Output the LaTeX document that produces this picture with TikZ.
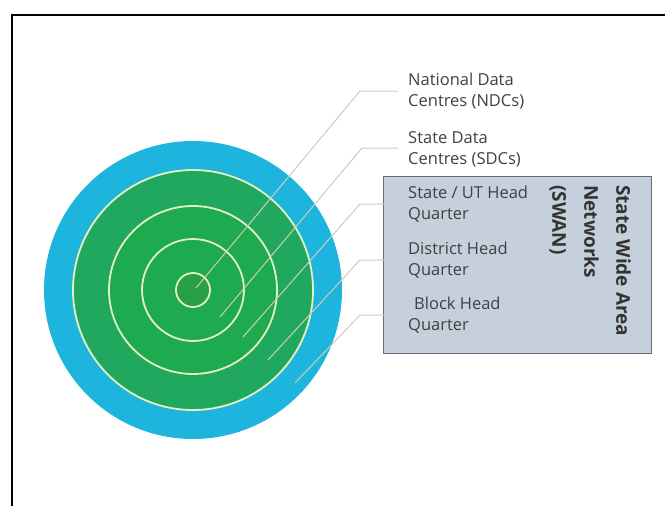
\documentclass[tikz,border=0pt]{standalone}
\usepackage{fontspec}
\setmainfont{Open Sans}
\definecolor{cyanring}{RGB}{29,181,222}
\definecolor{greenfill}{RGB}{30,170,78}
\definecolor{greenouter}{RGB}{32,168,95}
\definecolor{greencore}{RGB}{40,160,70}
\definecolor{ringline}{RGB}{230,240,190}
\definecolor{leader}{RGB}{205,205,185}
\definecolor{labeltext}{RGB}{64,64,64}
\definecolor{boxfill}{RGB}{198,208,220}
\definecolor{boxline}{RGB}{95,110,125}
\begin{document}
\begin{tikzpicture}[x=1pt,y=-1pt,
  ringstyle/.style={circle,draw=ringline,line width=1.8pt,inner sep=0pt},
  leaderline/.style={draw=leader,line width=1pt},
  lbl/.style={anchor=west,align=left,text=labeltext,font=\fontsize{16.5}{21}\selectfont,inner sep=0pt}]
\useasboundingbox (0,0) rectangle (665,506);
\fill[white] (0,0) rectangle (665,506);
\draw[black,line width=2.4pt] (12,520) -- (12,15) -- (680,15);
% target
\node[circle,fill=cyanring,minimum size=298pt,inner sep=0pt] (outer) at (193,290) {};
\node[ringstyle,fill=greenouter,minimum size=240pt] (r1) at (193,290) {};
\node[ringstyle,fill=greenfill,minimum size=168pt] (r2) at (193,290) {};
\node[ringstyle,fill=greenfill,minimum size=102pt] (r3) at (193,290) {};
\node[ringstyle,fill=greencore,minimum size=34pt] (r4) at (193,290) {};
% box
\node[draw=boxline,fill=boxfill,line width=1pt,minimum width=268pt,minimum height=177pt,anchor=north west,inner sep=0pt] (swanbox) at (383,176) {};
\node[rotate=-90,anchor=north west,align=left,font=\bfseries\fontsize{19}{32}\selectfont,text=labeltext!80!black,inner sep=0pt] (swan) at (631,185) {State Wide Area\\Networks\\(SWAN)};
% labels
\node[lbl] (l1) at (408,91.5) {National Data\\Centres (NDCs)};
\node[lbl] (l2) at (408,149.5) {State Data\\Centres (SDCs)};
\node[lbl] (l3) at (408,204.5) {State / UT Head\\Quarter};
\node[lbl] (l4) at (408,260.5) {District Head\\Quarter};
\node[lbl] (l5) at (408,315.5) {\hspace{6pt}Block Head\\Quarter};
% leader coordinates
\coordinate (a1) at (196,288); \coordinate (b1) at (360,91); \coordinate (c1) at (398,91);
\coordinate (a2) at (220,317); \coordinate (b2) at (362,148); \coordinate (c2) at (398,148);
\coordinate (a3) at (243,337); \coordinate (b3) at (360,204); \coordinate (c3) at (398,204);
\coordinate (a4) at (268,360); \coordinate (b4) at (360,260); \coordinate (c4) at (398,260);
\coordinate (a5) at (295,383); \coordinate (b5) at (360,315); \coordinate (c5) at (398,315);
\draw[leaderline] (a1) -- (b1) -- (c1);
\draw[leaderline] (a2) -- (b2) -- (c2);
\draw[leaderline] (a3) -- (b3) -- (c3);
\draw[leaderline] (a4) -- (b4) -- (c4);
\draw[leaderline] (a5) -- (b5) -- (c5);
\end{tikzpicture}
\end{document}
